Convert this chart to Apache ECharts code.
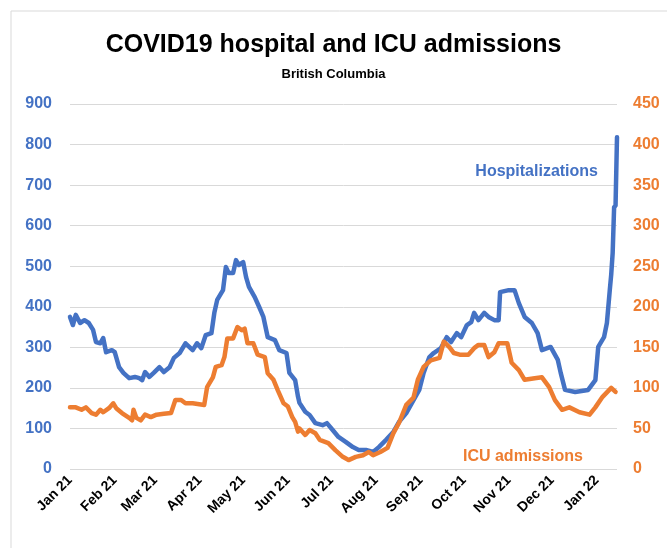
<!DOCTYPE html>
<html>
<head>
<meta charset="utf-8">
<title>COVID19 hospital and ICU admissions</title>
<script src="https://cdn.jsdelivr.net/npm/echarts@6/dist/echarts.min.js"></script>
<style>
  html, body { margin: 0; padding: 0; background: #fff; }
  #chart { width: 667px; height: 548px; }
</style>
</head>
<body>
<div id="chart"></div>
<script>
// day offsets from 1 Jan 2021
var hospDay = [0, 2, 4, 7, 10, 13, 16, 18, 21, 23, 25, 29, 31, 34, 37, 41, 45, 48, 50, 52,
  55, 58, 62, 65, 69, 72, 76, 80, 85, 88, 91, 94, 98, 100, 102, 106, 108, 110, 113, 115,
  117, 120, 122, 124, 128, 131, 134, 137, 142, 145, 150, 152, 156, 158, 159, 163, 166, 170, 175, 178,
  182, 186, 191, 196, 200, 205, 210, 214, 219, 224, 228, 233, 238, 242, 245, 249, 252, 257, 261, 264,
  268, 271, 275, 278, 280, 283, 287, 290, 294, 297, 298, 304, 308, 311, 315, 320, 324, 327, 333, 338,
  340, 343, 350, 359, 364, 366, 370, 372, 374, 375, 376, 377, 378, 379]
var hospValue = [375, 355, 380, 360, 367, 360, 343, 313, 310, 323, 288, 293, 288, 251, 237, 224, 227, 224, 219, 239,
  227, 237, 251, 239, 251, 274, 286, 310, 293, 310, 298, 330, 335, 385, 417, 441, 498, 483, 483, 515,
  503, 510, 473, 449, 424, 400, 375, 325, 318, 293, 286, 237, 219, 178, 163, 141, 133, 113, 108, 113,
  96, 79, 67, 54, 47, 47, 42, 54, 72, 91, 116, 138, 170, 195, 237, 276, 286, 298, 325, 313,
  335, 325, 355, 362, 385, 367, 385, 375, 367, 367, 436, 441, 441, 409, 375, 360, 335, 293, 301, 269,
  237, 195, 190, 195, 219, 301, 325, 360, 441, 480, 533, 645, 650, 818]

var icuDay = [0, 4, 8, 11, 15, 18, 21, 23, 27, 30, 32, 36, 41, 43, 44, 46, 49, 52, 56, 60,
  65, 70, 73, 77, 80, 85, 93, 95, 99, 101, 105, 107, 109, 113, 116, 119, 121, 123, 127, 130,
  135, 137, 141, 144, 148, 151, 154, 156, 158, 159, 163, 166, 170, 173, 179, 184, 189, 193, 198, 203,
  207, 210, 215, 220, 224, 228, 233, 238, 241, 245, 250, 256, 259, 263, 266, 270, 276, 280, 283, 287,
  290, 294, 297, 303, 306, 311, 315, 322, 327, 332, 336, 341, 346, 353, 360, 364, 369, 375, 378]
var icuValue = [76, 76, 73, 76, 69, 67, 73, 70, 75, 81, 75, 69, 63, 60, 73, 63, 60, 67, 64, 67,
  68, 69, 85, 85, 81, 81, 79, 101, 113, 126, 128, 138, 161, 161, 175, 171, 173, 155, 155, 141,
  138, 118, 110, 97, 81, 77, 64, 58, 46, 50, 42, 48, 44, 36, 32, 23, 15, 11, 15, 17,
  21, 17, 21, 26, 44, 57, 79, 88, 110, 126, 134, 137, 157, 150, 143, 141, 141, 149, 153, 153,
  138, 144, 155, 155, 131, 122, 110, 112, 113, 101, 85, 73, 76, 70, 67, 76, 89, 100, 95]

var monthNames = ['Jan', 'Feb', 'Mar', 'Apr', 'May', 'Jun', 'Jul', 'Aug', 'Sep', 'Oct', 'Nov', 'Dec']

var FONT = 'Liberation Sans'
var BLUE = '#4472C4'
var ORANGE = '#ED7D31'

function toDate(d) {
  return new Date(2021, 0, 1 + d).getTime()
}

function pairs(days, values) {
  return days.map(function (d, i) { return [toDate(d), values[i]] })
}

var chart = echarts.init(document.getElementById('chart'))
chart.setOption({
  animation: false,
  backgroundColor: '#fff',
  title: {
    text: 'COVID19 hospital and ICU admissions',
    subtext: 'British Columbia',
    left: 'center',
    top: 28,
    itemGap: 10,
    textStyle: { fontFamily: FONT, fontSize: 25, fontWeight: 'bold', color: '#000' },
    subtextStyle: { fontFamily: FONT, fontSize: 13, fontWeight: 'bold', color: '#000' }
  },
  graphic: [
    {
      type: 'rect',
      shape: { x: 11, y: 11, width: 700, height: 600 },
      style: { fill: 'none', stroke: '#d9d9d9', lineWidth: 1 },
      silent: true
    },
    {
      type: 'text',
      right: 69,
      top: 164,
      style: { text: 'Hospitalizations', fill: BLUE, font: 'bold 16px ' + FONT }
    },
    {
      type: 'text',
      right: 84,
      top: 449,
      style: { text: 'ICU admissions', fill: ORANGE, font: 'bold 16px ' + FONT }
    }
  ],
  grid: {
    top: 104,
    left: 70,
    right: 50,
    bottom: 79
  },
  xAxis: {
    type: 'time',
    min: toDate(0),
    max: toDate(379),
    minInterval: 28 * 86400000,
    maxInterval: 31 * 86400000,
    axisLine: { show: false },
    axisTick: { show: false },
    splitLine: { show: false },
    axisLabel: {
      rotate: 45,
      margin: 9,
      color: '#000',
      fontFamily: FONT,
      fontSize: 14,
      fontWeight: 'bold',
      hideOverlap: false,
      formatter: function (val) {
        var dt = new Date(val)
        return monthNames[dt.getMonth()] + ' ' + String(dt.getFullYear()).slice(2)
      }
    }
  },
  yAxis: [
    {
      type: 'value',
      min: 0,
      max: 900,
      interval: 100,
      axisLine: { show: false },
      axisTick: { show: false },
      axisLabel: { color: BLUE, fontFamily: FONT, fontSize: 16, fontWeight: 'bold', margin: 18 },
      splitLine: { lineStyle: { color: '#d9d9d9', width: 1 } }
    },
    {
      type: 'value',
      min: 0,
      max: 450,
      interval: 50,
      position: 'right',
      axisLine: { show: false },
      axisTick: { show: false },
      axisLabel: { color: ORANGE, fontFamily: FONT, fontSize: 16, fontWeight: 'bold', margin: 16 },
      splitLine: { show: false }
    }
  ],
  series: [
    {
      name: 'Hospitalizations',
      type: 'line',
      yAxisIndex: 0,
      data: pairs(hospDay, hospValue),
      showSymbol: false,
      lineStyle: { color: BLUE, width: 4.5, join: 'round', cap: 'round' }
    },
    {
      name: 'ICU admissions',
      type: 'line',
      yAxisIndex: 1,
      data: pairs(icuDay, icuValue),
      showSymbol: false,
      lineStyle: { color: ORANGE, width: 4.5, join: 'round', cap: 'round' }
    }
  ]
})
</script>
</body>
</html>
